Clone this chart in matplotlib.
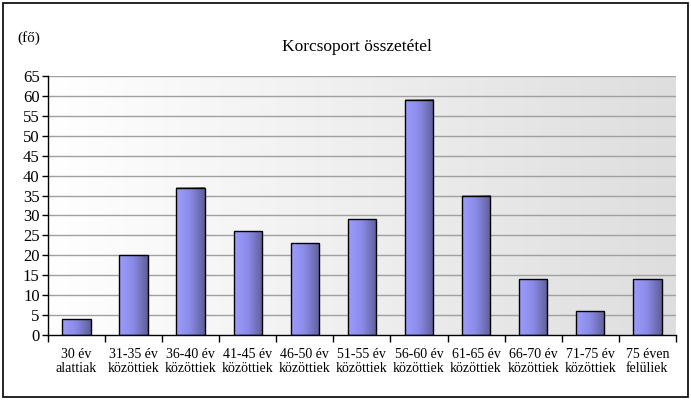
import numpy as np
import matplotlib
matplotlib.use("Agg")
import matplotlib.pyplot as plt
from matplotlib.colors import LinearSegmentedColormap
from matplotlib.patches import Rectangle

categories = ["30 év\nalattiak", "31-35 év\nközöttiek", "36-40 év\nközöttiek",
              "41-45 év\nközöttiek", "46-50 év\nközöttiek", "51-55 év\nközöttiek",
              "56-60 év\nközöttiek", "61-65 év\nközöttiek", "66-70 év\nközöttiek",
              "71-75 év\nközöttiek", "75 éven\nfelüliek"]
values = [4, 20, 37, 26, 23, 29, 59, 35, 14, 6, 14]
y_ticks = list(range(0, 70, 5))
title = "Korcsoport összetétel"
unit_label = "(fő)"

plt.rcParams["font.family"] = ["Liberation Serif", "DejaVu Serif"]

fig = plt.figure(figsize=(6.91, 4.0), dpi=100)
ax = fig.add_axes([0.0695, 0.1625, 0.9085, 0.6475])

n = len(values)

# plot-area background gradient (white -> light grey)
bg = LinearSegmentedColormap.from_list("bg", ["#ffffff", "#dedede"])
ax.imshow(np.linspace(0, 1, 256).reshape(1, -1), cmap=bg, aspect="auto",
          extent=(0, 1, 0, 1), transform=ax.transAxes, zorder=0)

for y in y_ticks[1:]:
    ax.axhline(y, color="#a0a0a0", lw=1.0, zorder=1)

# bars with horizontal gradient
bar_cmap = LinearSegmentedColormap.from_list("bar", ["#9c9cff", "#8a8ae6", "#5e5e98"])
grad = np.linspace(0, 1, 128).reshape(1, -1)
bars = ax.bar(range(n), values, width=0.5, facecolor="none",
              edgecolor="black", lw=1.0, zorder=3)
for b in bars:
    x0, h = b.get_x(), b.get_height()
    ax.imshow(grad, cmap=bar_cmap, aspect="auto",
              extent=(x0, x0 + b.get_width(), 0, h), zorder=2)
ax.set_xlim(-0.5, n - 0.5)
ax.set_ylim(0, 65)

for s in ("top", "right"):
    ax.spines[s].set_visible(False)
ax.spines["left"].set_linewidth(1.0)
ax.spines["bottom"].set_linewidth(1.0)

ax.set_yticks(y_ticks)
ax.tick_params(axis="y", length=4, width=1, labelsize=12, pad=2)
ax.set_xticks(np.arange(-0.5, n, 1.0))
ax.set_xticklabels([])
ax.tick_params(axis="x", length=5, width=1)
ax.set_xticks(range(n), minor=True)
ax.set_xticklabels(categories, minor=True, fontsize=10, linespacing=1.1)
ax.tick_params(axis="x", which="minor", length=0, pad=9)

fig.text(0.517, 0.882, title, ha="center", va="center", fontsize=12.5)
fig.text(0.025, 0.905, unit_label, ha="left", va="center", fontsize=11)

fig.add_artist(Rectangle((0.004, 0.007), 0.992, 0.985, transform=fig.transFigure,
                         fill=False, edgecolor="black", lw=1.2))

fig.savefig("out.png", dpi=100)
